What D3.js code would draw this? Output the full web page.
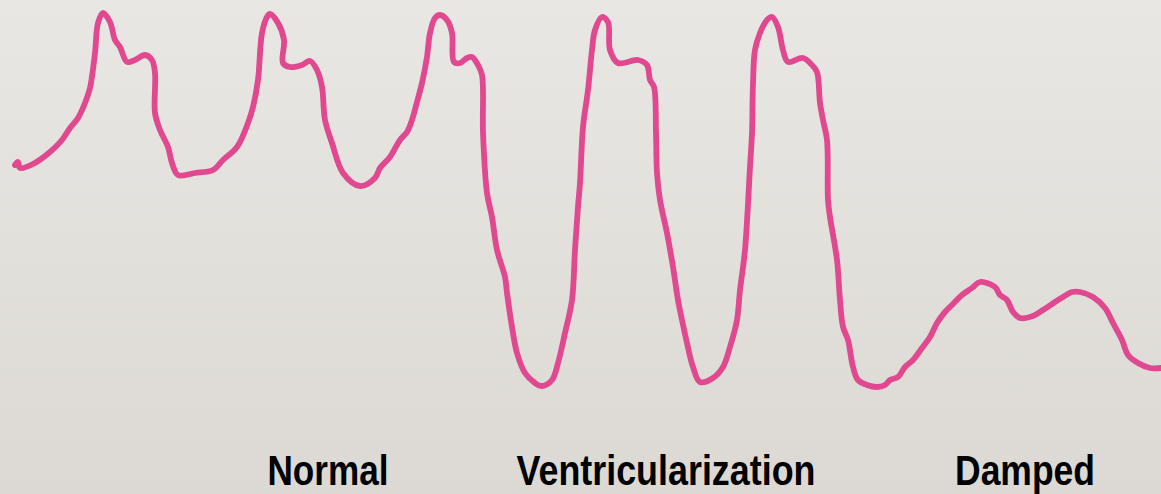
<!DOCTYPE html>
<html>
<head>
<meta charset="utf-8">
<script src="https://cdn.jsdelivr.net/npm/d3@7"></script>
<style>
  html, body { margin: 0; padding: 0; }
  body { width: 1161px; height: 494px; overflow: hidden; }
  .trace { fill: none; stroke: #e0488f; stroke-width: 5.8; stroke-linejoin: round; stroke-linecap: round; }
  .label { font-family: "Liberation Sans Narrow", "Liberation Sans", Arial, sans-serif; font-weight: bold; font-size: 43px; fill: #000; }
</style>
</head>
<body>
<div class="container"></div>
<script>
// arterial line trace (time units, pressure units)
var time = [15,18,20,33,50,62,70,78,85,90,95,98,103,110,115,120,127,135,145,152,155,155,160,168,172,178,195,213,
  223,237,248,253,258,262,267,270,278,284,283,290,302,310,317,322,325,332,343,360,375,380,390,400,
  407,412,417,422,427,430,435,440,447,452,454,460,467,472,478,482,483,487,492,497,505,507,512,517,525,535,542,
  552,558,565,572,575,578,580,583,588,592,595,602,608,610,618,638,647,650,654,656,657,660,667,673,678,682,687,
  693,700,713,723,730,737,740,745,750,752,753,755,760,767,772,778,783,788,803,812,817,820,823,827,828,830,837,
  840,843,848,853,858,867,877,885,890,898,905,913,922,930,937,945,952,962,972,980,995,1000,1007,1013,1020,1033,
  1043,1055,1063,1072,1080,1093,1105,1113,1122,1128,1138,1150,1161];
var pressure = [165,162,168,164,152,140,128,118,103,88,53,23,13,22,40,47,62,60,55,60,73,113,130,147,163,175,173,170,
  160,147,123,107,80,33,17,14,23,40,63,67,65,61,70,87,120,143,173,186,178,168,157,140,
  132,120,102,83,57,33,18,15,20,33,62,63,58,57,65,75,133,193,217,250,277,293,327,353,373,383,386,
  380,363,333,300,250,207,183,127,90,50,30,17,22,50,63,60,65,80,87,133,173,200,233,267,300,320,343,
  367,382,378,367,347,320,290,250,167,133,83,50,33,20,17,27,50,62,58,65,72,103,120,140,200,217,260,
  300,327,340,367,380,385,387,385,380,377,367,360,348,337,323,312,305,295,288,282,287,295,300,312,318,316,
  310,302,297,292,292,297,308,323,340,355,363,368,368];

var labels = ["Normal", "Ventricularization", "Damped"];
var labelPos = [328, 666, 1025];
var labelWidth = [121, 299, 140];

const WIDTH = 1161;
const HEIGHT = 494;

var svg = d3.select('.container').append('svg')
  .attr('width', WIDTH)
  .attr('height', HEIGHT);

var grad = svg.append('defs').append('linearGradient')
  .attr('id', 'bg')
  .attr('x1', 0).attr('y1', 0).attr('x2', 0).attr('y2', 1);
grad.append('stop').attr('offset', '0%').attr('stop-color', '#e9e7e3');
grad.append('stop').attr('offset', '100%').attr('stop-color', '#dcd9d4');

svg.append('rect')
  .attr('width', WIDTH)
  .attr('height', HEIGHT)
  .attr('fill', 'url(#bg)');

var xScale = d3.scaleLinear().domain([0, 1161]).range([0, WIDTH]);
var yScale = d3.scaleLinear().domain([0, 400]).range([0, 400]);

var line = d3.line()
  .curve(d3.curveCatmullRom.alpha(0.5))
  .x(function(d, i) { return xScale(time[i]); })
  .y(function(d) { return yScale(d); });

svg.append('path')
  .classed('trace', true)
  .attr('d', line(pressure));

svg.selectAll('text.label').data(labels)
  .enter().append('text')
  .classed('label', true)
  .attr('x', function(d, i) { return labelPos[i]; })
  .attr('y', 485)
  .attr('text-anchor', 'middle')
  .attr('textLength', function(d, i) { return labelWidth[i]; })
  .attr('lengthAdjust', 'spacingAndGlyphs')
  .text(function(d) { return d; });
</script>
</body>
</html>
